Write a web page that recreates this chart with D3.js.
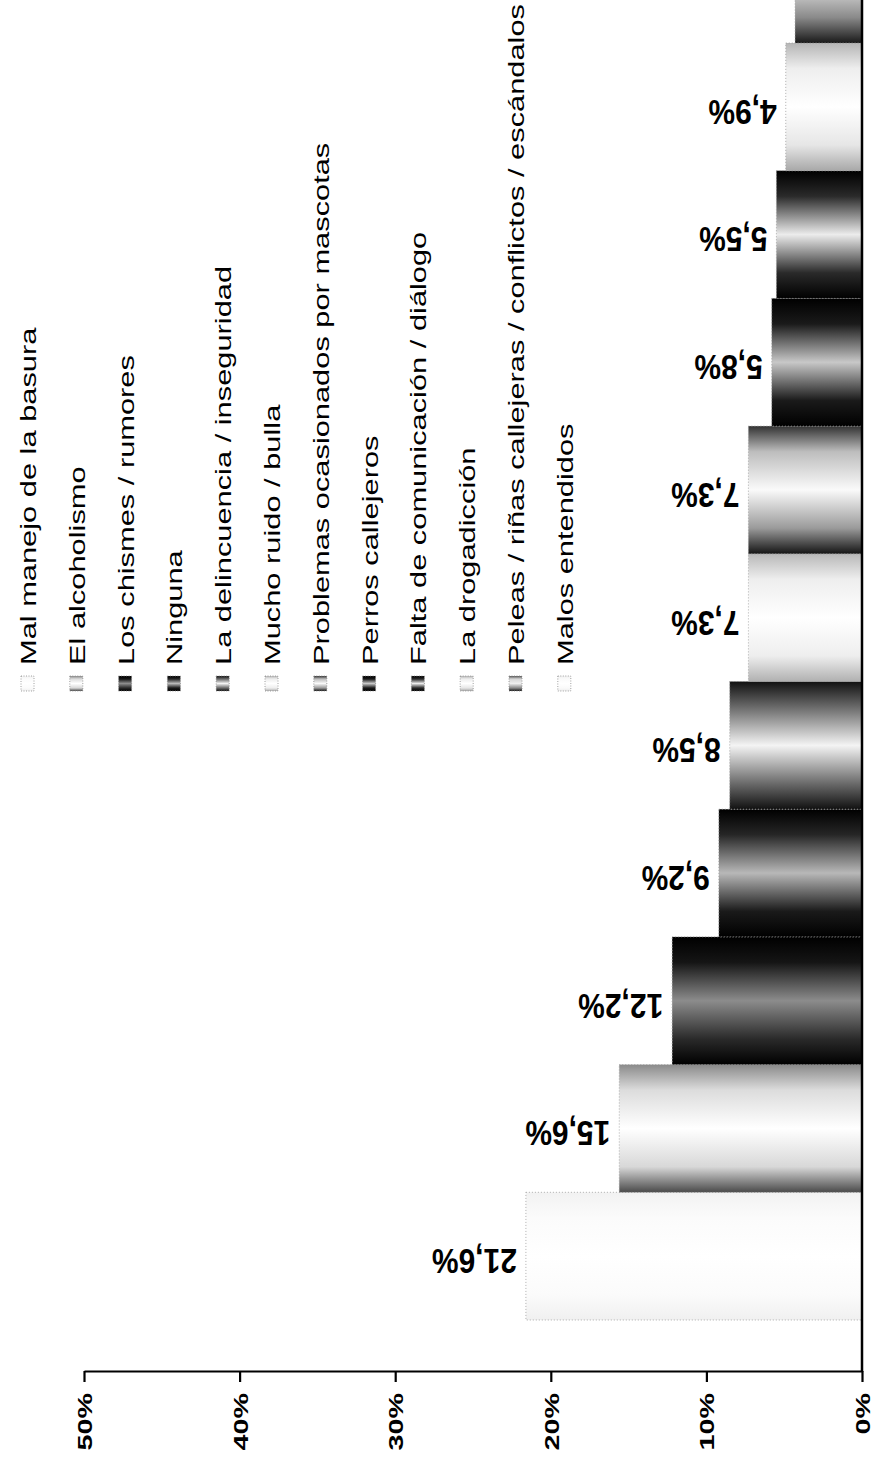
<!DOCTYPE html>
<html>
<head>
<meta charset="utf-8">
<script src="https://cdn.jsdelivr.net/npm/d3@7/dist/d3.min.js"></script>
<style>
  body { margin: 0; background: #fff; }
  svg { display: block; }
</style>
</head>
<body>
<div id="chart"></div>
<script>
// data
const categories = [
  "Mal manejo de la basura",
  "El alcoholismo",
  "Los chismes / rumores",
  "Ninguna",
  "La delincuencia / inseguridad",
  "Mucho ruido / bulla",
  "Problemas ocasionados por mascotas",
  "Perros callejeros",
  "Falta de comunicación / diálogo",
  "La drogadicción",
  "Peleas / riñas callejeras / conflictos / escándalos",
  "Malos entendidos"
];
const values = [21.6, 15.6, 12.2, 9.2, 8.5, 7.3, 7.3, 5.8, 5.5, 4.9, 4.3, 3.6];
const tickValues = [0, 10, 20, 30, 40, 50];

// grey "cylinder" shading of each series (top -> bottom of the bar as scanned)
const shades = [
  ["#f2f2f2", "#fbfbfb", "#ffffff", "#fbfbfb", "#f0f0f0"],
  ["#8a8a8a", "#dcdcdc", "#ffffff", "#d8d8d8", "#4a4a4a"],
  ["#000000", "#151515", "#8c8c8c", "#2a2a2a", "#000000"],
  ["#000000", "#262626", "#b8b8b8", "#1a1a1a", "#000000"],
  ["#111111", "#6a6a6a", "#f4f4f4", "#6a6a6a", "#111111"],
  ["#b8b8b8", "#eeeeee", "#ffffff", "#eeeeee", "#b0b0b0"],
  ["#333333", "#bdbdbd", "#fafafa", "#9a9a9a", "#151515"],
  ["#000000", "#1a1a1a", "#c8c8c8", "#1a1a1a", "#000000"],
  ["#000000", "#2a2a2a", "#ececec", "#2a2a2a", "#000000"],
  ["#b5b5b5", "#eeeeee", "#ffffff", "#e6e6e6", "#a8a8a8"],
  ["#555555", "#d6d6d6", "#eeeeee", "#8a8a8a", "#1a1a1a"],
  ["#f0f0f0", "#fafafa", "#ffffff", "#fafafa", "#eeeeee"]
];

const W = 874, H = 1463;
const stretch = 1.37; // the scan is stretched vertically
const font = "'Liberation Sans', Arial, sans-serif";

const svg = d3.select("#chart").append("svg")
  .attr("width", W)
  .attr("height", H);

const defs = svg.append("defs");
shades.forEach((s, i) => {
  const g = defs.append("linearGradient")
    .attr("id", "shade" + i)
    .attr("x1", 0).attr("y1", 0).attr("x2", 0).attr("y2", 1);
  [0, 0.2, 0.5, 0.8, 1].forEach((o, k) => {
    g.append("stop").attr("offset", o).attr("stop-color", s[k]);
  });
});

// scales
const axisY = 1371;
const x = d3.scaleLinear()
  .domain([0, 50])
  .range([862, 84]);

const barH = 127.7;
const y = d3.scaleBand()
  .domain(categories)
  .range([1320, 1320 - barH * categories.length])
  .padding(0);

// bars
svg.selectAll("rect.bar")
  .data(categories)
  .enter()
  .append("rect")
    .attr("class", "bar")
    .attr("x", (d, i) => x(values[i]))
    .attr("y", d => y(d))
    .attr("width", (d, i) => x(0) - x(values[i]))
    .attr("height", y.bandwidth())
    .attr("fill", (d, i) => `url(#shade${i})`)
    .attr("stroke", "#9a9a9a")
    .attr("stroke-width", 0.8)
    .attr("stroke-dasharray", "1,2");

// value labels (upside down, as in the scan); the top of the chart is cropped
const fmt = v => d3.format(".1f")(v).replace(".", ",") + "%";
const labelled = categories
  .map((d, i) => ({ name: d, value: values[i] }))
  .filter(d => y(d.name) > 0);

svg.selectAll("text.val")
  .data(labelled)
  .enter()
  .append("text")
    .attr("class", "val")
    .attr("transform", d =>
      `translate(${x(d.value) - 9},${y(d.name) + y.bandwidth() / 2 + 5}) scale(1,1.15) rotate(180)`)
    .attr("dy", "0.35em")
    .attr("text-anchor", "start")
    .attr("font-family", font)
    .attr("font-weight", "bold")
    .attr("font-size", 30)
    .attr("fill", "#000")
    .text(d => fmt(d.value));

// value axis
const axis = svg.append("g")
  .attr("transform", `translate(0,${axisY})`)
  .call(d3.axisBottom(x).tickValues(tickValues).tickSize(11).tickSizeOuter(0)
    .tickFormat(d => d + "%"))
  .attr("font-family", font)
  .attr("font-size", 21)
  .attr("font-weight", "bold");

axis.select(".domain").attr("stroke", "#000").attr("stroke-width", 2.2);
axis.selectAll(".tick line").attr("stroke", "#000").attr("stroke-width", 2.2);
axis.selectAll(".tick text")
  .attr("x", null).attr("y", null).attr("dy", null)
  .attr("fill", "#000")
  .attr("text-anchor", "end")
  .attr("transform", `translate(7.5,22) scale(1,${stretch}) rotate(-90)`);

// category axis line
svg.append("line")
  .attr("x1", x(0)).attr("x2", x(0))
  .attr("y1", -5).attr("y2", axisY + 1)
  .attr("stroke", "#000")
  .attr("stroke-width", 2.5);

// legend
const legStart = 665;
const legStep = 48.8;
const legFont = 22.5;
const legend = svg.selectAll("g.leg")
  .data(categories)
  .enter()
  .append("g")
    .attr("class", "leg")
    .attr("transform", (d, i) => `translate(${36 + legStep * i},0)`);

legend.append("rect")
  .attr("x", -15)
  .attr("y", legStart + 11)
  .attr("width", 13)
  .attr("height", 15)
  .attr("fill", (d, i) => `url(#shade${i})`)
  .attr("stroke", "#8a8a8a")
  .attr("stroke-width", 0.8)
  .attr("stroke-dasharray", "1,1.5");

legend.append("text")
  .attr("transform", `translate(0,${legStart}) scale(1,${stretch}) rotate(-90)`)
  .attr("text-anchor", "start")
  .attr("font-family", font)
  .attr("font-size", legFont)
  .attr("fill", "#000")
  .text(d => d);
</script>
</body>
</html>
